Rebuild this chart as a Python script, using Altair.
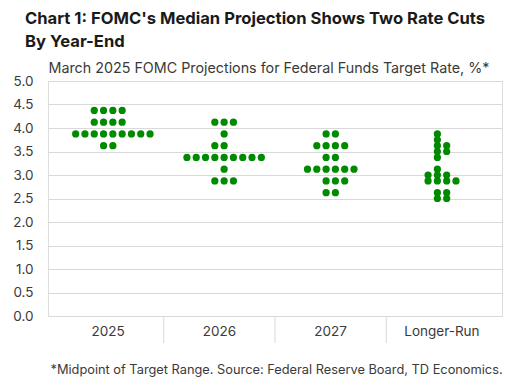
import altair as alt
import pandas as pd

categories = ["2025", "2026", "2027", "Longer-Run"]

rates_2025 = [4.375, 4.125, 3.875, 3.625]
dots_2025 = [4, 4, 9, 2]
rates_2026 = [4.125, 3.875, 3.625, 3.375, 3.125, 2.875]
dots_2026 = [3, 1, 2, 9, 1, 3]
rates_2027 = [3.875, 3.625, 3.375, 3.125, 2.875, 2.625]
dots_2027 = [2, 4, 2, 6, 3, 2]
rates_lr = [3.875, 3.75, 3.625, 3.5, 3.375, 3.125, 3.0, 2.875, 2.625, 2.5]
dots_lr = [1, 1, 2, 2, 1, 1, 3, 4, 2, 2]

y_ticks = [0, 0.5, 1, 1.5, 2, 2.5, 3, 3.5, 4, 4.5, 5]

series = {
    "2025": (rates_2025, dots_2025),
    "2026": (rates_2026, dots_2026),
    "2027": (rates_2027, dots_2027),
    "Longer-Run": (rates_lr, dots_lr),
}

rows = []
for cat, (rates, counts) in series.items():
    for r, n in zip(rates, counts):
        # dots of one rate sit side by side; odd rows in the longer run lean left
        start = (n + 1) // 2 if cat == "Longer-Run" else n // 2
        for i in range(n):
            rows.append({"cat": cat, "rate": r, "slot": i - start})
df = pd.DataFrame(rows)
sep_df = pd.DataFrame({"cat": categories[:-1]})

GRID = "#d9d9d9"
TXT = "#3a3a3a"
FONT = "Inter"
FOOTNOTE = "*Midpoint of Target Range. Source: Federal Reserve Board, TD Economics."

x_scale = alt.Scale(paddingInner=0, paddingOuter=0.04)


def x_axis():
    return alt.Axis(
        title=FOOTNOTE,
        titleX=2,
        titleY=57,
        titleAlign="left",
        titleAnchor="start",
        titleBaseline="alphabetic",
        titleFont=FONT,
        titleFontSize=12.8,
        titleFontWeight="normal",
        titleColor=TXT,
        labelAngle=0,
        labelFont=FONT,
        labelFontSize=13.5,
        labelColor=TXT,
        labelBaseline="middle",
        labelPadding=15,
        domain=False,
        ticks=False,
        grid=False,
    )


dots = (
    alt.Chart(df)
    .mark_circle(size=52, opacity=1, color="#008A00")
    .encode(
        x=alt.X("cat:N", sort=categories, scale=x_scale, axis=x_axis()),
        xOffset=alt.XOffset(
            "slot:Q",
            scale=alt.Scale(domain=[0, 1], range=[60.4, 69.7]),
        ),
        y=alt.Y(
            "rate:Q",
            scale=alt.Scale(domain=[0, 5], nice=False, zero=True),
            axis=alt.Axis(
                values=y_ticks,
                format=".1f",
                title="March 2025 FOMC Projections for Federal Funds Target Rate, %*",
                titleAngle=0,
                titleX=0,
                titleY=-9,
                titleAlign="left",
                titleBaseline="alphabetic",
                titleFont=FONT,
                titleFontSize=14.3,
                titleFontWeight="normal",
                titleColor=TXT,
                labelFont=FONT,
                labelFontSize=13.5,
                labelColor=TXT,
                labelPadding=15,
                domain=False,
                ticks=False,
                grid=True,
                gridColor=GRID,
                gridWidth=1,
            ),
        ),
    )
)

separators = (
    alt.Chart(sep_df)
    .mark_rule(color=GRID, strokeWidth=1)
    .encode(
        x=alt.X("cat:N", sort=categories, scale=x_scale, bandPosition=1, axis=x_axis()),
        y=alt.value(235),
        y2=alt.value(262),
    )
)

chart = (
    alt.layer(dots, separators)
    .properties(
        width=454,
        height=235,
        autosize=alt.AutoSizeParams(type="none"),
        padding={"left": 40, "top": 73, "right": 6, "bottom": 62},
        title=alt.TitleParams(
            text=["Chart 1: FOMC's Median Projection Shows Two Rate Cuts", "By Year-End"],
            anchor="start",
            frame="group",
            dx=-23,
            offset=10,
            font=FONT,
            fontSize=16.6,
            fontWeight="bold",
            lineHeight=23,
            color="#1a1a1a",
        ),
    )
    .configure_view(strokeWidth=0, stroke="transparent")
    .configure(background="white")
)

chart.save("out.html", embed_options={"renderer": "svg", "actions": False})
